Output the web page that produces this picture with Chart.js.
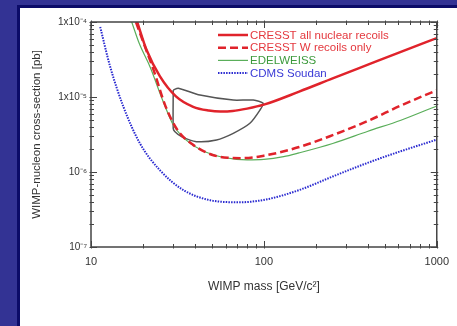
<!DOCTYPE html>
<html>
<head>
<meta charset="utf-8">
<script src="https://cdn.jsdelivr.net/npm/chart.js@4/dist/chart.umd.min.js"></script>
<style>
  body { margin: 0; background: #333394; width: 457px; height: 326px; overflow: hidden; }
  .panel {
    position: absolute; left: 17px; top: 5px;
    width: 437px; height: 318px;
    border-left: 3px solid #0c0c68; border-top: 3px solid #0c0c68;
    background: #fff;
  }
</style>
</head>
<body>
<div class="panel"><canvas id="chart" width="437" height="318"></canvas></div>
<script>
// CRESST all nuclear recoils
const cresstAllX = [18.5, 21, 25, 31, 39, 48, 56, 66, 80, 100, 160, 250, 400, 620, 1000];
const cresstAllY = [1e-4, 4.2e-5, 1.9e-5, 1.02e-5, 7.4e-6, 6.6e-6, 6.4e-6, 6.5e-6, 7.0e-6, 7.9e-6, 1.18e-5, 1.77e-5, 2.7e-5, 4.0e-5, 6.1e-5];

// CRESST W recoils only
const cresstWX = [18.2, 20, 23, 27, 32, 39, 50, 62, 75, 100, 160, 250, 400, 620, 1000];
const cresstWY = [1e-4, 5.5e-5, 2.3e-5, 7.5e-6, 3.5e-6, 2.3e-6, 1.7e-6, 1.55e-6, 1.53e-6, 1.65e-6, 2.15e-6, 3.1e-6, 4.8e-6, 7.7e-6, 1.23e-5];

// EDELWEISS
const edelX = [17.2, 19, 22, 26, 30, 36, 46, 60, 80, 100, 130, 160, 250, 400, 620, 1000];
const edelY = [1e-4, 5.2e-5, 2.5e-5, 9.0e-6, 4.2e-6, 2.6e-6, 1.85e-6, 1.55e-6, 1.45e-6, 1.47e-6, 1.6e-6, 1.8e-6, 2.4e-6, 3.5e-6, 4.9e-6, 7.6e-6];

// CDMS Soudan
const cdmsX = [11.3, 12.9, 15.4, 19.2, 25, 34, 49, 72, 103, 160, 250, 390, 610, 1000];
const cdmsY = [8.6e-5, 2.55e-5, 7.4e-6, 2.4e-6, 1.06e-6, 5.8e-7, 4.2e-7, 3.95e-7, 4.3e-7, 5.75e-7, 8.7e-7, 1.3e-6, 1.87e-6, 2.7e-6];

// DAMA region contour
const regionX = [29.9, 32, 42.7, 66.5, 86.8, 99, 94.9, 83, 66.5, 53.2, 40.7, 33.4, 30.6, 29.9, 29.9];
const regionY = [1.24e-5, 1.31e-5, 1.06e-5, 9.1e-6, 9.1e-6, 8.25e-6, 6.7e-6, 4.46e-6, 3.28e-6, 2.67e-6, 2.54e-6, 2.96e-6, 3.45e-6, 3.82e-6, 1.24e-5];

const xTickLabels = [10, 100, 1000];
const yTickLabels = { "-4": "1x10⁻⁴", "-5": "1x10⁻⁵", "-6": "10⁻⁶", "-7": "10⁻⁷" };

const FONT = "'Liberation Sans', Arial, Helvetica, sans-serif";

function points(xs, ys) {
    return xs.map((x, i) => ({ x: x, y: ys[i] }));
}

function logTicks(min, max) {
    const out = [];
    for (let e = Math.floor(Math.log10(min)); e <= Math.ceil(Math.log10(max)); e++) {
        for (let m = 1; m < 10; m++) {
            const v = m * Math.pow(10, e);
            if (v >= min * 0.999 && v <= max * 1.001) out.push({ v: v, major: m === 1 });
        }
    }
    return out;
}

// frame and inward ticks on all four sides
const framePlugin = {
    id: 'frame',
    afterDatasetsDraw(chart) {
        const ctx = chart.ctx;
        const a = chart.chartArea;
        const xs = chart.scales.x, ys = chart.scales.y;
        ctx.save();
        ctx.strokeStyle = '#444';
        ctx.lineWidth = 1;
        logTicks(xs.min, xs.max).forEach(t => {
            const px = Math.round(xs.getPixelForValue(t.v)) + 0.5;
            const len = t.major ? 6 : 3;
            ctx.beginPath();
            ctx.moveTo(px, a.bottom + 1.5); ctx.lineTo(px, a.bottom - len);
            ctx.moveTo(px, a.top - 1.5); ctx.lineTo(px, a.top + len);
            ctx.stroke();
        });
        logTicks(ys.min, ys.max).forEach(t => {
            const py = Math.round(ys.getPixelForValue(t.v)) + 0.5;
            const len = t.major ? 6 : 3;
            ctx.beginPath();
            ctx.moveTo(a.left - 1.5, py); ctx.lineTo(a.left + len, py);
            ctx.moveTo(a.right + 1.5, py); ctx.lineTo(a.right - len, py);
            ctx.stroke();
        });
        ctx.lineWidth = 1.5;
        ctx.strokeRect(a.left, a.top, a.right - a.left, a.bottom - a.top);
        ctx.restore();
    }
};

// legend inside the plot, text coloured like its line
const legendPlugin = {
    id: 'innerLegend',
    afterDraw(chart) {
        const ctx = chart.ctx;
        const a = chart.chartArea;
        ctx.save();
        ctx.font = '11.5px ' + FONT;
        ctx.textBaseline = 'middle';
        chart.data.datasets.forEach((ds, i) => {
            if (!ds.label) return;
            const y = a.top + 13 + i * 12.7;
            const x0 = a.left + 127;
            ctx.strokeStyle = ds.borderColor;
            ctx.lineWidth = ds.borderWidth;
            ctx.setLineDash(ds.borderDash || []);
            ctx.beginPath();
            ctx.moveTo(x0, y); ctx.lineTo(x0 + 30, y);
            ctx.stroke();
            ctx.setLineDash([]);
            ctx.fillStyle = ds.textColor;
            ctx.fillText(ds.label, x0 + 32, y + 0.5);
        });
        ctx.restore();
    }
};

new Chart(document.getElementById('chart'), {
    type: 'scatter',
    data: {
        datasets: [
            {
                label: 'CRESST all nuclear recoils',
                data: points(cresstAllX, cresstAllY),
                borderColor: '#e0232b', textColor: '#e4383e',
                borderWidth: 2.5, cubicInterpolationMode: 'monotone'
            },
            {
                label: 'CRESST W recoils only',
                data: points(cresstWX, cresstWY),
                borderColor: '#e0232b', textColor: '#e4383e',
                borderWidth: 2.5, borderDash: [8, 4], cubicInterpolationMode: 'monotone'
            },
            {
                label: 'EDELWEISS',
                data: points(edelX, edelY),
                borderColor: '#5aae5a', textColor: '#3c9a3c',
                borderWidth: 1.2, cubicInterpolationMode: 'monotone'
            },
            {
                label: 'CDMS Soudan',
                data: points(cdmsX, cdmsY),
                borderColor: '#2a2ad0', textColor: '#3a3ad6',
                borderWidth: 2, borderDash: [1.5, 1.2], cubicInterpolationMode: 'monotone'
            },
            {
                label: '',
                data: points(regionX, regionY),
                borderColor: '#555', borderWidth: 1.5, tension: 0.25
            }
        ]
    },
    options: {
        responsive: false,
        animation: false,
        showLine: true,
        elements: { point: { radius: 0 } },
        layout: { padding: { top: 14, right: 20, left: 0, bottom: 0 } },
        plugins: { legend: { display: false }, tooltip: { enabled: false } },
        scales: {
            x: {
                type: 'logarithmic', min: 10, max: 1000,
                grid: { display: false, drawTicks: false },
                border: { display: false },
                afterFit: scale => { scale.height = 79; },
                ticks: {
                    autoSkip: false, maxRotation: 0, padding: 8,
                    color: '#333', font: { family: FONT, size: 11 },
                    callback: v => xTickLabels.includes(Math.round(v)) && Math.abs(v - Math.round(v)) < 1e-6 ? String(Math.round(v)) : ''
                },
                title: {
                    display: true, text: 'WIMP mass [GeV/c²]', color: '#333',
                    font: { family: FONT, size: 12 }, padding: { top: 4, bottom: 32 }
                }
            },
            y: {
                type: 'logarithmic', min: 1e-7, max: 1e-4,
                grid: { display: false, drawTicks: false },
                border: { display: false },
                afterFit: scale => { scale.width = 71; },
                ticks: {
                    autoSkip: false, padding: 4,
                    color: '#333', font: { family: FONT, size: 10 },
                    callback: v => {
                        const e = Math.log10(v);
                        return Math.abs(e - Math.round(e)) < 1e-6 ? (yTickLabels[Math.round(e)] || '') : '';
                    }
                },
                title: {
                    display: true, text: 'WIMP-nucleon cross-section [pb]', color: '#333',
                    font: { family: FONT, size: 11.5 }, padding: { top: 10, bottom: 4 }
                }
            }
        }
    },
    plugins: [framePlugin, legendPlugin]
});
</script>
</body>
</html>
